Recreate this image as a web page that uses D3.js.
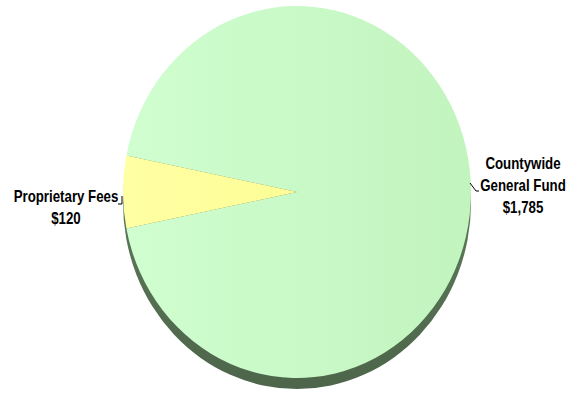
<!DOCTYPE html>
<html>
<head>
<meta charset="utf-8">
<script src="https://cdn.jsdelivr.net/npm/d3@7/dist/d3.min.js"></script>
<style>
  html, body { margin: 0; padding: 0; background: #fff; }
  svg { display: block; }
  .lbl { font-family: "Liberation Sans", Arial, sans-serif;
         font-weight: bold; font-size: 16px; fill: #000; }
</style>
</head>
<body>
<div id="chart"></div>
<script>
// Data
const categories = ["Countywide General Fund", "Proprietary Fees"];
const values = [1785, 120];
const labelLines = [["Countywide", "General Fund", "$1,785"], ["Proprietary Fees", "$120"]];

// Layout
const W = 573, H = 396;
const CX = 297, CY = 192;
const RX = 174, RY = 186;
const DEPTH = 11;
const NARROW = 0.83; // fake a narrow font
const COLORS = {
    side: ["#6b8c67", "#4d654a"],
    slices: [["#d0fed0", "#c2f4be"], ["#ffffa4", "#fdfd96"]]
};

const svg = d3.select("#chart").append("svg")
    .attr("width", W)
    .attr("height", H);

const defs = svg.append("defs");

function linGrad(id, c0, c1, vertical) {
    const g = defs.append("linearGradient").attr("id", id)
        .attr("x1", "0%").attr("y1", "0%")
        .attr("x2", vertical ? "0%" : "100%").attr("y2", vertical ? "100%" : "0%");
    g.append("stop").attr("offset", "0%").attr("stop-color", c0);
    g.append("stop").attr("offset", "100%").attr("stop-color", c1);
}
COLORS.slices.forEach((c, i) => linGrad("slice" + i, c[0], c[1], false));
linGrad("side", COLORS.side[0], COLORS.side[1], true);

// pie: small slice centered on the left side
const total = d3.sum(values);
const frac = values[1] / total;
const pie = d3.pie().sort(null)
    .startAngle(1.5 * Math.PI + Math.PI * frac)
    .endAngle(3.5 * Math.PI + Math.PI * frac);
const arcs = pie(values);

const arc = d3.arc().innerRadius(0).outerRadius(RX);

// side (depth)
svg.append("path")
    .attr("transform", `translate(${CX},${CY + DEPTH}) scale(1,${RY / RX})`)
    .attr("d", arc({ startAngle: 0, endAngle: 2 * Math.PI }))
    .attr("fill", "url(#side)");

// top face
const face = svg.append("g")
    .attr("transform", `translate(${CX},${CY}) scale(1,${RY / RX})`);
face.selectAll("path.slice")
    .data(arcs)
    .enter().append("path")
    .attr("class", "slice")
    .attr("d", arc)
    .attr("fill", (d, i) => `url(#slice${i})`);

// labels
function edgePoint(a) {
    return [CX + RX * Math.sin(a), CY - RY * Math.cos(a)];
}

function addLabel(lines, x, y0) {
    lines.forEach((s, k) => {
        svg.append("text")
            .attr("class", "lbl")
            .attr("text-anchor", "middle")
            .attr("transform", `translate(${x},${y0 + k * 22}) scale(${NARROW},1)`)
            .text(s);
    });
}

// Countywide General Fund (right)
{
    const mid = (arcs[0].startAngle + arcs[0].endAngle) / 2;
    const [px, py] = edgePoint(mid);
    const sx = px - 1, sy = py - 9;
    svg.append("path")
        .attr("d", `M${sx},${sy}L${sx + 6},${sy + 8}L${sx + 9},${sy + 8}`)
        .attr("fill", "none").attr("stroke", "#000").attr("stroke-width", 1);
    addLabel(labelLines[0], sx + 53, sy - 14);
}

// Proprietary Fees (left)
{
    const mid = (arcs[1].startAngle + arcs[1].endAngle) / 2;
    const [px, py] = edgePoint(mid);
    const sx = px - 1, sy = py + 12;
    svg.append("path")
        .attr("d", `M${sx},${sy - 8}L${sx},${sy}L${sx - 4},${sy}`)
        .attr("fill", "none").attr("stroke", "#000").attr("stroke-width", 1);
    addLabel(labelLines[1], sx - 56, sy - 2);
}
</script>
</body>
</html>
